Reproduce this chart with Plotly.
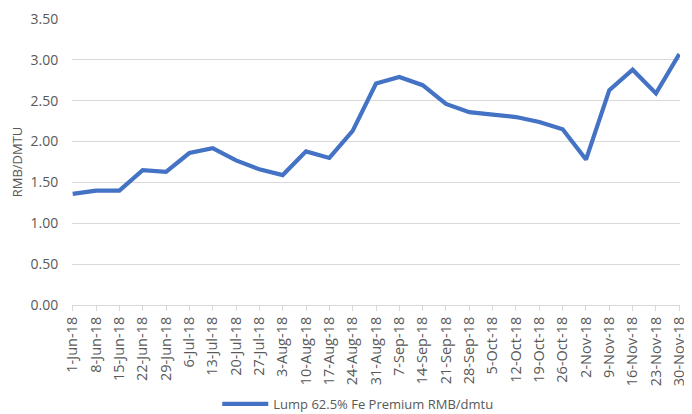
import plotly.graph_objects as go

dates = ["1-Jun-18", "8-Jun-18", "15-Jun-18", "22-Jun-18", "29-Jun-18", "6-Jul-18",
         "13-Jul-18", "20-Jul-18", "27-Jul-18", "3-Aug-18", "10-Aug-18", "17-Aug-18",
         "24-Aug-18", "31-Aug-18", "7-Sep-18", "14-Sep-18", "21-Sep-18", "28-Sep-18",
         "5-Oct-18", "12-Oct-18", "19-Oct-18", "26-Oct-18", "2-Nov-18", "9-Nov-18",
         "16-Nov-18", "23-Nov-18", "30-Nov-18"]
premium = [1.36, 1.40, 1.40, 1.65, 1.63, 1.86, 1.92, 1.77, 1.66, 1.59, 1.88, 1.80,
           2.13, 2.71, 2.79, 2.69, 2.46, 2.36, 2.33, 2.30, 2.24, 2.15, 1.78, 2.63,
           2.88, 2.59, 3.07]
y_ticks = [0, 0.5, 1.0, 1.5, 2.0, 2.5, 3.0, 3.5]
series_name = "Lump 62.5% Fe Premium RMB/dmtu"

FONT = "Open Sans, Lato, sans-serif"
GREY = "#595959"

fig = go.Figure()
fig.add_trace(go.Scatter(
    x=list(range(len(dates))), y=premium, mode="lines", name=series_name,
    line=dict(color="#4472C4", width=4.2),
))

# page body adds an 8px margin, so the figure is sized to fit inside the window
fig.update_layout(
    width=684, height=406,
    margin=dict(l=64, r=12, t=11, b=109, autoexpand=False),
    paper_bgcolor="white", plot_bgcolor="white",
    font=dict(family=FONT, color=GREY, size=13),
    showlegend=True,
    legend=dict(orientation="h", x=0.47, xanchor="center",
                yref="container", y=0.025, yanchor="middle",
                font=dict(size=13, color=GREY, family=FONT), itemwidth=46),
    xaxis=dict(
        tickmode="array", tickvals=list(range(len(dates))), ticktext=dates,
        tickangle=-90, range=[-0.03, len(dates) - 1 + 0.03],
        showgrid=False, zeroline=False, automargin=False,
        showline=True, linecolor="#D9D9D9", linewidth=1,
        ticks="outside", ticklen=5, tickcolor="#D9D9D9",
        tickfont=dict(size=14.5, color=GREY, family=FONT),
    ),
    yaxis=dict(
        range=[0, 3.5], tickvals=y_ticks, tickformat=".2f",
        showgrid=True, gridcolor="#D9D9D9", gridwidth=1,
        zeroline=False, showline=False, automargin=False,
        ticks="outside", ticklen=10, tickcolor="rgba(0,0,0,0)",
        title=dict(text="RMB/DMTU", font=dict(size=13, color=GREY, family=FONT), standoff=8),
        tickfont=dict(size=14, color=GREY, family=FONT),
    ),
)

fig.write_html("out.html")
